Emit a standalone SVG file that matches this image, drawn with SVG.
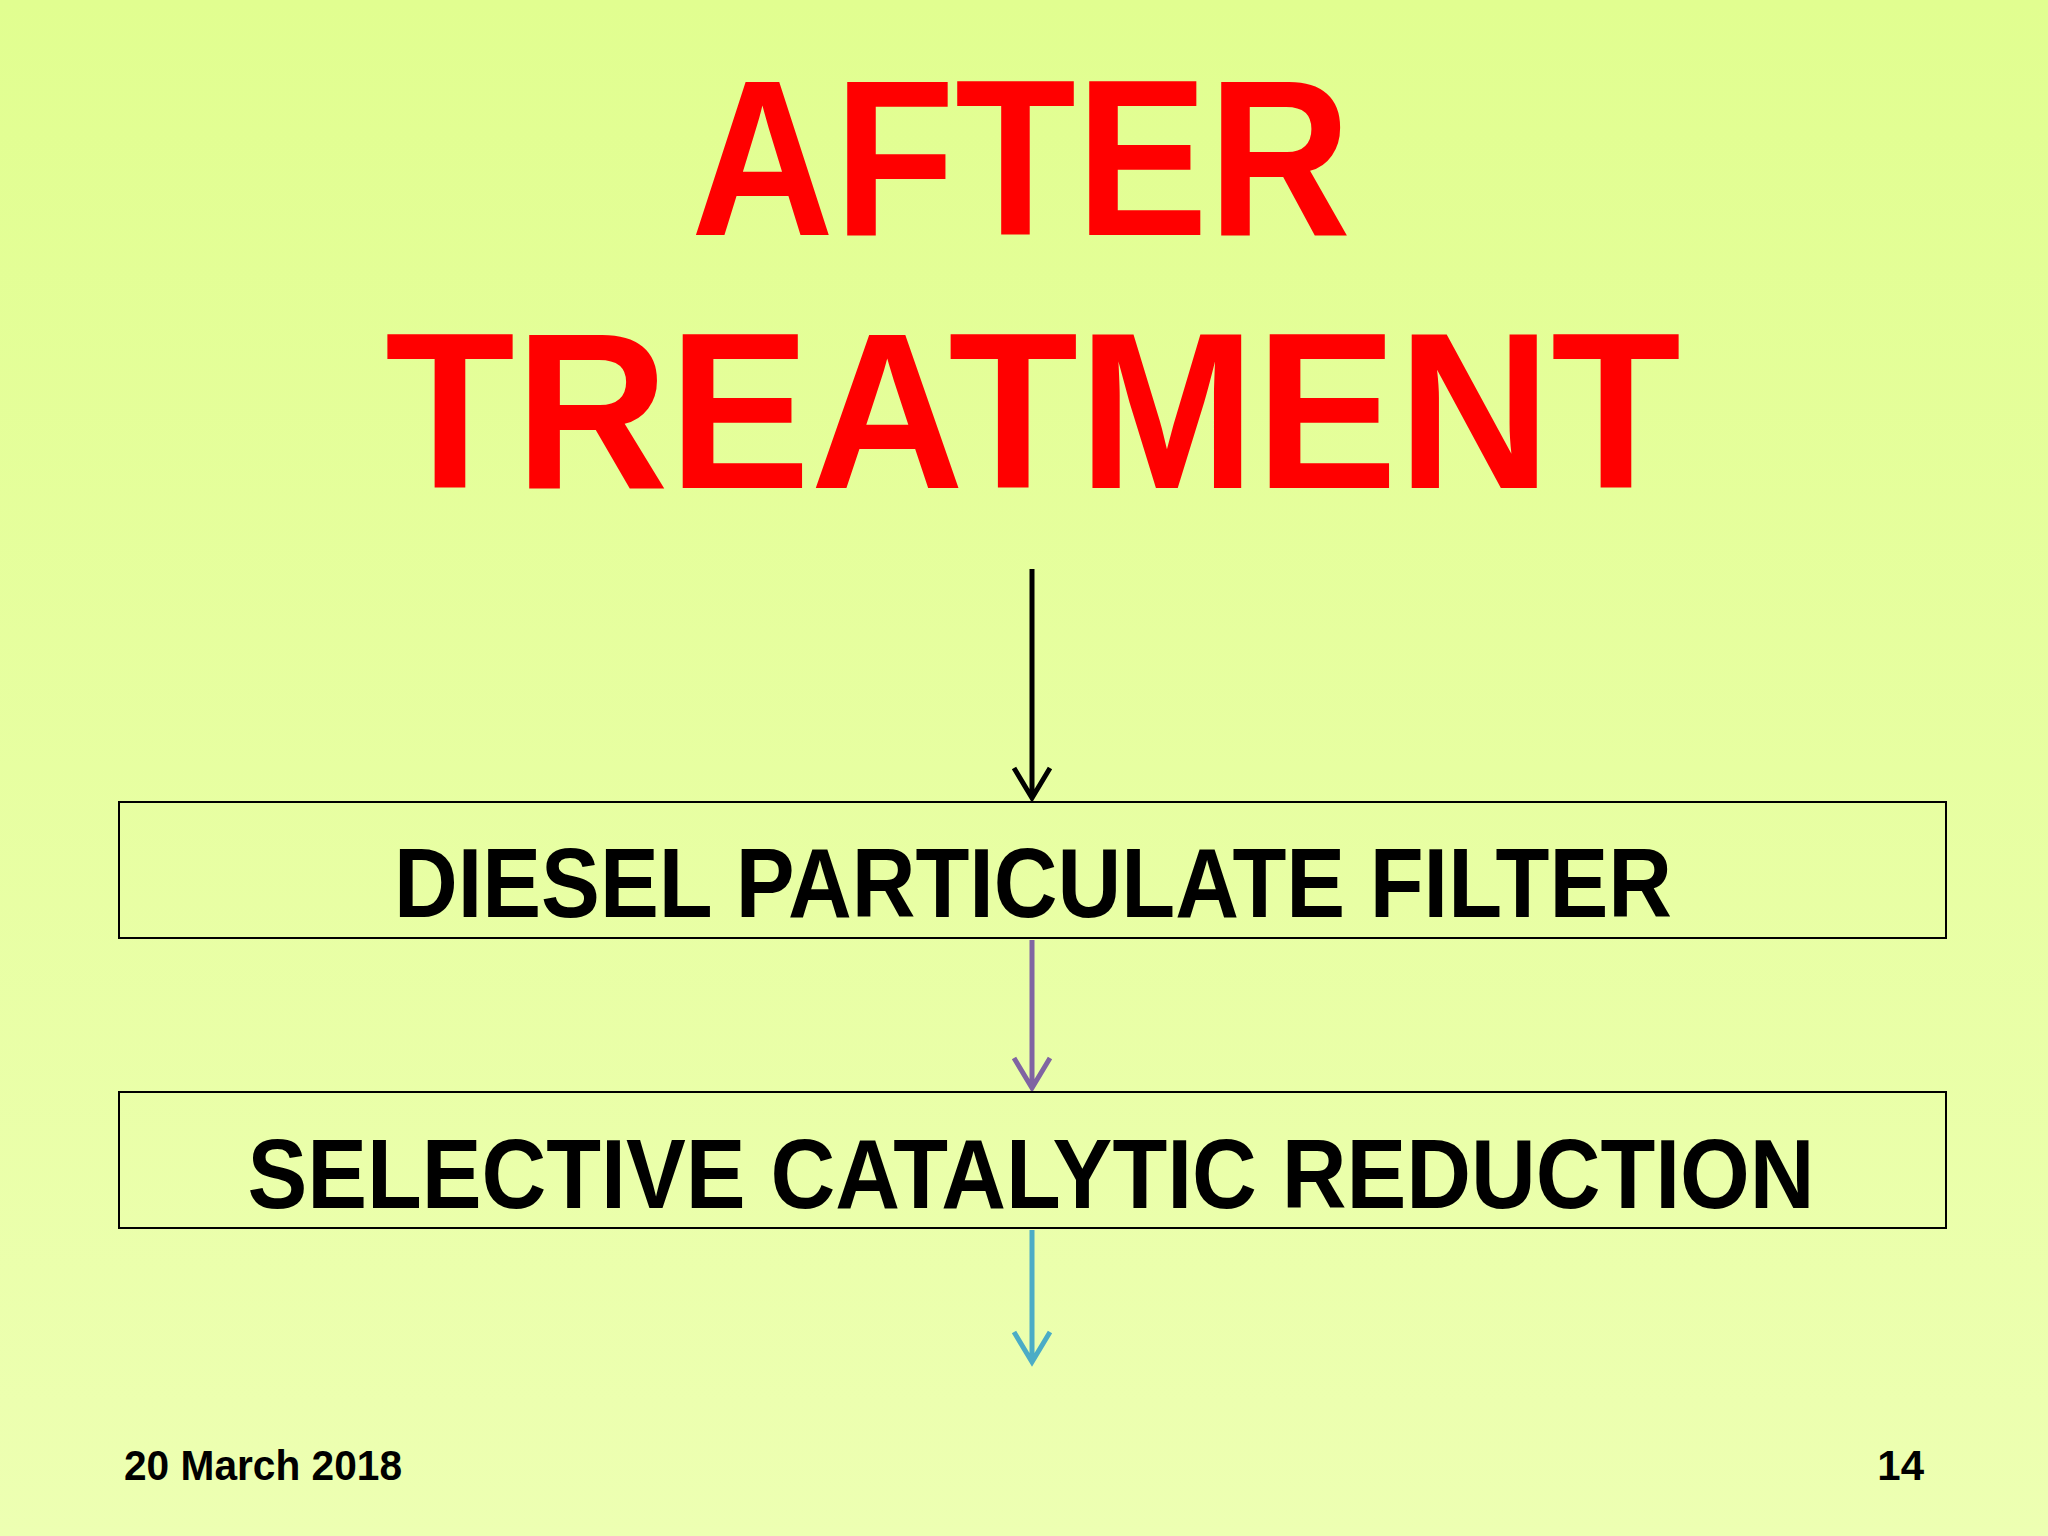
<svg xmlns="http://www.w3.org/2000/svg" width="2048" height="1536" viewBox="0 0 2048 1536">
<defs>
<linearGradient id="bg" x1="0" y1="0" x2="0" y2="1"><stop offset="0" stop-color="#e1fe90"/><stop offset="1" stop-color="#edffb2"/></linearGradient>
<style>
.t{font-family:"Liberation Sans",Arial,sans-serif;font-weight:bold;text-anchor:middle}
.box{fill:none;stroke:#000;stroke-width:2}
.ar{fill:none;stroke-width:5}
</style>
</defs>
<rect width="2048" height="1536" fill="url(#bg)"/>
<g id="title">
<text class="t" x="1021" y="235" font-size="222" fill="#ff0000" textLength="660" lengthAdjust="spacingAndGlyphs">AFTER</text>
<text class="t" x="1033" y="488" font-size="222" fill="#ff0000" textLength="1296" lengthAdjust="spacingAndGlyphs">TREATMENT</text>
</g>
<g id="connectors">
<path class="ar" stroke="#000" d="M1032 569V796M1014 768L1032 798L1050 768"/>
<path class="ar" stroke="#8064a2" d="M1032 940V1086M1014 1058L1032 1088L1050 1058"/>
<path class="ar" stroke="#4bacc6" d="M1032 1230V1360M1014 1332L1032 1362L1050 1332"/>
</g>
<g id="dpf">
<rect class="box" x="119" y="802" width="1827" height="136"/>
<text class="t" x="1033" y="917" font-size="98" fill="#000" textLength="1278" lengthAdjust="spacingAndGlyphs">DIESEL PARTICULATE FILTER</text>
</g>
<g id="scr">
<rect class="box" x="119" y="1092" width="1827" height="136"/>
<text class="t" x="1031" y="1208" font-size="98" fill="#000" textLength="1567" lengthAdjust="spacingAndGlyphs">SELECTIVE CATALYTIC REDUCTION</text>
</g>
<g id="footer">
<text x="124" y="1480" font-family="Liberation Sans,Arial,sans-serif" font-weight="bold" font-size="42" textLength="278" lengthAdjust="spacingAndGlyphs">20 March 2018</text>
<text x="1924" y="1480" font-family="Liberation Sans,Arial,sans-serif" font-weight="bold" font-size="42" text-anchor="end">14</text>
</g>
</svg>
